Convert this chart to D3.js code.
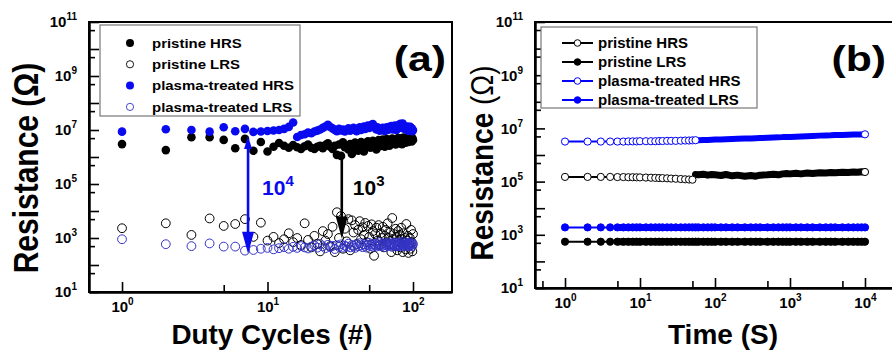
<!DOCTYPE html>
<html>
<head>
<meta charset="utf-8">
<script src="https://cdn.jsdelivr.net/npm/d3@7/dist/d3.min.js"></script>
<style>
  body { margin: 0; background: #fff; }
  svg { display: block; font-family: "Liberation Sans", Arial, sans-serif; font-weight: bold; }
</style>
</head>
<body>
<svg id="chart" width="892" height="351"></svg>
<script>
// ---------- panel (a): resistance vs duty cycle (cycles 1..100) ----------
var cycles = d3.range(1, 101);

var pristineHRS = [
  3.0e6, 1.8e6, 5.4e6, 5.4e6, 4.3e6, 2.1e6, 4.7e6, 1.7e6, 3.6e6, 1.6e6,
  2.4e6, 3.3e6, 2.6e6, 2.2e6, 2.8e6, 2.3e6, 2.0e6, 2.5e6, 2.9e6, 2.2e6,
  2.0e6, 2.4e6, 2.6e6, 2.1e6, 2.8e6, 3.2e6, 2.4e6, 2.0e6, 2.6e6, 1.2e6,
  2.9e6, 1.1e6, 3.5e6, 2.3e6, 2.7e6, 1.9e6, 3.0e6, 1.3e6, 2.5e6, 3.4e6,
  2.2e6, 1.7e6, 2.8e6, 3.6e6, 2.4e6, 1.6e6, 3.1e6, 2.6e6, 3.8e6, 2.9e6,
  2.2e6, 3.3e6, 4.0e6, 2.7e6, 3.5e6, 1.9e6, 3.0e6, 4.2e6, 2.5e6, 3.6e6,
  2.8e6, 4.4e6, 3.2e6, 2.4e6, 3.9e6, 4.6e6, 3.0e6, 3.7e6, 2.6e6, 4.1e6,
  3.4e6, 4.8e6, 3.1e6, 4.3e6, 3.6e6, 2.9e6, 4.5e6, 3.8e6, 5.0e6, 3.3e6,
  4.2e6, 3.7e6, 4.9e6, 3.0e6, 4.4e6, 5.2e6, 3.9e6, 4.6e6, 3.4e6, 4.8e6,
  4.1e6, 5.3e6, 3.6e6, 4.7e6, 5.5e6, 4.0e6, 4.5e6, 3.8e6, 5.0e6, 4.3e6
];
var pristineLRS = [
  2.3e3, 3.5e3, 1.3e3, 5.3e3, 2.8e3, 3.3e3, 5.0e3, 1.1e3, 3.7e3, 8.0e2,
  1.1e3, 6.5e2, 9.0e2, 1.5e3, 7.0e2, 1.0e3, 5.5e2, 3.5e3, 8.5e2, 4.5e2,
  1.2e3, 6.0e2, 3.2e2, 1.8e3, 8.0e2, 1.4e3, 5.0e2, 2.6e3, 3.0e2, 9.0e3,
  1.0e3, 6.5e3, 4.0e2, 2.2e3, 7.5e2, 5.0e3, 3.5e2, 4.5e3, 1.6e3, 3.0e3,
  6.0e2, 2.0e3, 4.2e3, 9.0e2, 2.5e3, 1.3e3, 3.6e3, 7.0e2, 2.8e3, 1.1e3,
  4.0e2, 3.2e3, 1.8e3, 2.2e2, 1.4e3, 2.4e3, 8.0e2, 3.0e3, 5.5e2, 1.5e3,
  1.0e3, 2.6e3, 4.5e2, 1.2e3, 2.0e3, 7.0e2, 3.5e3, 1.0e3, 6.0e2, 1.6e3,
  3.0e2, 5.5e3, 9.0e2, 1.4e3, 5.0e2, 2.2e3, 1.1e3, 3.5e2, 1.8e3, 7.5e2,
  1.3e3, 4.5e2, 2.4e3, 9.0e2, 3.0e2, 1.5e3, 6.5e2, 1.0e3, 3.8e2, 3.3e3,
  8.0e2, 1.2e3, 2.8e2, 6.0e2, 1.0e3, 4.0e2, 2.0e3, 7.0e2, 3.2e2, 1.4e3
];
var plasmaHRS = [
  8.7e6, 1.07e7, 1.0e7, 8.7e6, 1.26e7, 9.0e6, 1.1e7, 8.5e6, 8.8e6, 9.2e6,
  9.6e6, 1.0e7, 1.1e7, 1.3e7, 1.9e7, 5.5e6, 6.5e6, 7.0e6, 8.0e6, 7.6e6,
  8.8e6, 9.5e6, 1.05e7, 1.2e7, 1.35e7, 1.55e7, 1.3e7, 1.15e7, 1.0e7, 9.0e6,
  1.1e7, 9.6e6, 1.05e7, 8.8e6, 1.0e7, 1.15e7, 9.4e6, 1.05e7, 1.2e7, 1.0e7,
  9.0e6, 1.1e7, 1.25e7, 1.0e7, 1.15e7, 1.35e7, 1.1e7, 1.3e7, 1.45e7, 1.2e7,
  1.35e7, 1.55e7, 1.65e7, 1.4e7, 1.2e7, 1.05e7, 1.25e7, 1.1e7, 9.5e6, 1.15e7,
  1.0e7, 1.2e7, 1.05e7, 9.2e6, 1.1e7, 1.25e7, 1.0e7, 1.15e7, 1.3e7, 1.1e7,
  1.4e7, 1.2e7, 1.05e7, 1.25e7, 1.45e7, 1.2e7, 1.0e7, 1.15e7, 1.35e7, 1.55e7,
  1.3e7, 1.7e7, 1.45e7, 1.2e7, 1.75e7, 1.4e7, 1.15e7, 1.3e7, 1.05e7, 1.25e7,
  1.1e7, 1.35e7, 9.5e6, 1.2e7, 1.05e7, 1.3e7, 1.0e7, 1.15e7, 9.0e6, 1.0e7
];
var plasmaLRS = [
  9.0e2, 5.9e2, 5.0e2, 6.3e2, 4.8e2, 4.8e2, 3.4e2, 3.6e2, 4.0e2, 4.3e2,
  3.8e2, 4.2e2, 4.6e2, 4.0e2, 4.7e2, 4.3e2, 5.0e2, 4.5e2, 4.1e2, 4.8e2,
  5.3e2, 4.4e2, 6.0e2, 4.9e2, 4.2e2, 5.6e2, 4.6e2, 5.1e2, 3.9e2, 5.4e2,
  4.7e2, 5.8e2, 4.4e2, 5.2e2, 4.8e2, 6.2e2, 4.5e2, 5.5e2, 5.0e2, 4.3e2,
  5.7e2, 4.9e2, 6.4e2, 5.3e2, 4.6e2, 5.9e2, 5.1e2, 4.4e2, 5.6e2, 6.6e2,
  5.0e2, 5.8e2, 4.7e2, 6.1e2, 5.4e2, 4.8e2, 6.0e2, 5.2e2, 7.0e2, 5.6e2,
  4.9e2, 6.3e2, 5.5e2, 4.6e2, 6.0e2, 5.3e2, 6.8e2, 5.7e2, 5.0e2, 6.2e2,
  5.4e2, 4.7e2, 6.5e2, 5.8e2, 5.1e2, 6.9e2, 5.6e2, 4.9e2, 6.1e2, 5.4e2,
  6.6e2, 5.0e2, 5.9e2, 7.2e2, 5.5e2, 4.8e2, 6.3e2, 5.7e2, 6.8e2, 5.2e2,
  6.0e2, 5.5e2, 6.5e2, 4.9e2, 5.8e2, 7.0e2, 5.4e2, 6.2e2, 5.0e2, 6.0e2
];
// on/off ratio arrows: cycle, top and bottom resistance, exponent label
var arrowCycles = [7.35, 32.4];
var arrowTop = [6.0e6, 9.4e5];
var arrowBottom = [2.6e2, 9.5e2];
var arrowExp = ["4", "3"];

// ---------- panel (b): retention vs time ----------
var times = [1, 2, 3, 4, 5, 6, 7, 8, 9, 10, 12, 14, 16, 18, 20, 23, 26, 30, 35, 40,
  45, 50, 55, 60, 70, 80, 90, 100, 120, 140, 170, 200, 250, 300, 350, 400, 500, 600,
  700, 800, 900, 1000, 1200, 1400, 1700, 2000, 2500, 3000, 3500, 4000, 5000, 6000,
  7000, 8000, 9000, 10000];
var retPristineHRS = [1.5e5, 1.5e5, 1.5e5, 1.5e5, 1.48e5, 1.48e5, 1.46e5, 1.46e5, 1.45e5, 1.44e5,
  1.42e5, 1.4e5, 1.38e5, 1.36e5, 1.35e5, 1.33e5, 1.3e5, 1.28e5, 1.25e5, 1.22e5,
  1.2e5, 1.18e5, 1.85e5, 1.8e5, 1.9e5, 1.75e5, 1.85e5, 1.8e5, 1.7e5, 1.85e5,
  1.65e5, 1.75e5, 1.6e5, 1.7e5, 1.6e5, 1.75e5, 1.8e5, 1.9e5, 1.8e5, 1.95e5,
  2.0e5, 1.95e5, 2.05e5, 1.95e5, 2.1e5, 2.0e5, 2.15e5, 2.1e5, 2.2e5, 2.15e5,
  2.25e5, 2.2e5, 2.3e5, 2.25e5, 2.35e5, 2.3e5];
var retPristineLRS = [5.5e2, 5.5e2, 5.5e2, 5.5e2, 5.5e2, 5.5e2, 5.5e2, 5.5e2, 5.5e2, 5.5e2,
  5.5e2, 5.5e2, 5.5e2, 5.5e2, 5.5e2, 5.5e2, 5.5e2, 5.5e2, 5.5e2, 5.5e2,
  5.5e2, 5.5e2, 5.5e2, 5.5e2, 5.5e2, 5.5e2, 5.5e2, 5.5e2, 5.5e2, 5.5e2,
  5.5e2, 5.5e2, 5.5e2, 5.5e2, 5.5e2, 5.5e2, 5.5e2, 5.5e2, 5.5e2, 5.5e2,
  5.5e2, 5.5e2, 5.5e2, 5.5e2, 5.5e2, 5.5e2, 5.5e2, 5.5e2, 5.5e2, 5.5e2,
  5.5e2, 5.5e2, 5.5e2, 5.5e2, 5.5e2, 5.5e2];
var retPlasmaHRS = [3.2e6, 3.2e6, 3.2e6, 3.2e6, 3.2e6, 3.2e6, 3.25e6, 3.25e6, 3.25e6, 3.3e6,
  3.3e6, 3.3e6, 3.3e6, 3.35e6, 3.35e6, 3.4e6, 3.4e6, 3.4e6, 3.45e6, 3.5e6,
  3.5e6, 3.55e6, 3.6e6, 3.6e6, 3.65e6, 3.7e6, 3.75e6, 3.8e6, 3.85e6, 3.9e6,
  4.0e6, 4.05e6, 4.15e6, 4.2e6, 4.3e6, 4.35e6, 4.45e6, 4.55e6, 4.6e6, 4.7e6,
  4.75e6, 4.8e6, 4.9e6, 5.0e6, 5.1e6, 5.2e6, 5.35e6, 5.45e6, 5.5e6, 5.6e6,
  5.7e6, 5.8e6, 5.85e6, 5.9e6, 5.95e6, 6.0e6];
var retPlasmaLRS = [1.9e3, 1.9e3, 1.9e3, 1.9e3, 1.9e3, 1.9e3, 1.9e3, 1.9e3, 1.9e3, 1.9e3,
  1.9e3, 1.9e3, 1.9e3, 1.9e3, 1.9e3, 1.9e3, 1.9e3, 1.9e3, 1.9e3, 1.9e3,
  1.9e3, 1.9e3, 1.9e3, 1.9e3, 1.9e3, 1.9e3, 1.9e3, 1.9e3, 1.9e3, 1.9e3,
  1.9e3, 1.9e3, 1.9e3, 1.9e3, 1.9e3, 1.9e3, 1.9e3, 1.9e3, 1.9e3, 1.9e3,
  1.9e3, 1.9e3, 1.9e3, 1.9e3, 1.9e3, 1.9e3, 1.9e3, 1.9e3, 1.9e3, 1.9e3,
  1.9e3, 1.9e3, 1.9e3, 1.9e3, 1.9e3, 1.9e3];

var yMajor = [1e1, 1e2, 1e3, 1e4, 1e5, 1e6, 1e7, 1e8, 1e9, 1e10, 1e11];
var yMinor = [5e1, 5e2, 5e3, 5e4, 5e5, 5e6, 5e7, 5e8, 5e9, 5e10];

var BLUE = "#0a0af0";
var svg = d3.select("#chart");

// replace "n" tick text by 10 with superscript n
function powerLabels(g, supSize, rise) {
  g.selectAll(".tick text").each(function () {
    var t = d3.select(this), e = t.text();
    if (!e) return;
    t.text(null);
    t.append("tspan").text("10");
    t.append("tspan").attr("dy", -rise).attr("font-size", supSize).text(e);
  });
}

function drawAxes(box, x, y, xMajor, xMinor) {
  var yLab = function (d) { var e = Math.round(Math.log10(d)); return e % 2 ? e : ""; };
  var xLab = function (d) { return Math.round(Math.log10(d)); };

  svg.append("rect")
    .attr("x", box.left).attr("y", box.top)
    .attr("width", box.right - box.left).attr("height", box.bottom - box.top)
    .attr("fill", "none").attr("stroke", "#000").attr("stroke-width", 2);

  var gy = svg.append("g").attr("transform", "translate(" + box.left + ",0)");
  gy.append("g").call(d3.axisLeft(y).tickValues(yMinor).tickSizeInner(-6).tickSizeOuter(0).tickFormat(""));
  var gyl = gy.append("g").call(d3.axisLeft(y).tickValues(yMajor).tickSizeInner(-10).tickSizeOuter(0)
    .tickPadding(12).tickFormat(yLab));

  var gx = svg.append("g").attr("transform", "translate(0," + box.bottom + ")");
  gx.append("g").call(d3.axisBottom(x).tickValues(xMinor).tickSizeInner(-7).tickSizeOuter(0).tickFormat(""));
  var gxl = gx.append("g").call(d3.axisBottom(x).tickValues(xMajor).tickSizeInner(-10).tickSizeOuter(0)
    .tickPadding(9).tickFormat(xLab));

  [gy, gx].forEach(function (g) {
    g.selectAll(".domain").attr("stroke-width", 2);
    g.selectAll(".tick line").attr("stroke-width", 1.6);
    g.selectAll("g").attr("font-family", null).attr("font-size", 15);
  });
  powerLabels(gyl, 10, 7);
  powerLabels(gxl, 10, 7);
}

// ================= panel (a) =================
var boxA = {left: 89, right: 452, top: 22, bottom: 292};
var xA = d3.scaleLog().domain([0.593, 185.4]).range([boxA.left, boxA.right]);
var yA = d3.scaleLog().domain([1e1, 1e11]).range([boxA.bottom, boxA.top]);
drawAxes(boxA, xA, yA, [1, 10, 100], [5, 50]);

var seriesA = [
  {name: "pristine HRS", values: pristineHRS, color: "#000", filled: true},
  {name: "pristine LRS", values: pristineLRS, color: "#000", filled: false},
  {name: "plasma-treated HRS", values: plasmaHRS, color: BLUE, filled: true},
  {name: "plasma-treated LRS", values: plasmaLRS, color: "#3434c8", filled: false}
];

var plotA = svg.append("g");
seriesA.forEach(function (s) {
  plotA.append("g").selectAll("circle")
    .data(s.values)
    .enter().append("circle")
    .attr("cx", function (d, i) { return xA(cycles[i]); })
    .attr("cy", function (d) { return yA(d); })
    .attr("r", s.filled ? 4.3 : 4.4)
    .attr("fill", s.filled ? s.color : "none")
    .attr("stroke", s.color)
    .attr("stroke-width", s.filled ? 0 : 1);
});

// arrows
arrowCycles.forEach(function (c, i) {
  var col = i === 0 ? BLUE : "#000";
  var ax = xA(c), y0 = yA(arrowTop[i]), y1 = yA(arrowBottom[i]);
  var head = 22, hw = 6;
  plotA.append("line")
    .attr("x1", ax).attr("x2", ax)
    .attr("y1", i === 0 ? y0 + 6 : y0).attr("y2", y1 - head + 2)
    .attr("stroke", col).attr("stroke-width", 2.6);
  plotA.append("path")
    .attr("d", "M" + (ax - hw) + "," + (y1 - head) + "L" + (ax + hw) + "," + (y1 - head) + "L" + ax + "," + y1 + "Z")
    .attr("fill", col);
  if (i === 0) {
    plotA.append("path")
      .attr("d", "M" + (ax - 4) + "," + (y0 + 13) + "L" + (ax + 4) + "," + (y0 + 13) + "L" + ax + "," + y0 + "Z")
      .attr("fill", col);
  }
  var lab = plotA.append("text")
    .attr("x", ax + (i === 0 ? 14 : 11)).attr("y", 195)
    .attr("fill", col).attr("font-size", 21);
  lab.append("tspan").text("10");
  lab.append("tspan").attr("dy", -9).attr("font-size", 15).text(arrowExp[i]);
});

// legend (a)
var legA = svg.append("g");
legA.append("rect").attr("x", 100).attr("y", 25).attr("width", 200).attr("height", 91)
  .attr("fill", "#fff").attr("stroke", "#777").attr("stroke-width", 1.2);
seriesA.forEach(function (s, i) {
  var ly = 43 + i * 21.3;
  legA.append("circle").attr("cx", 130).attr("cy", ly)
    .attr("r", s.filled ? 4 : 3.6)
    .attr("fill", s.filled ? s.color : "none")
    .attr("stroke", s.color).attr("stroke-width", s.filled ? 0 : 0.9);
  legA.append("text")
    .attr("transform", "translate(152," + (ly + 4.6) + ") scale(1.15,1)")
    .attr("font-size", 13).text(s.name);
});

svg.append("text")
  .attr("transform", "translate(446,71) scale(1.22,1)")
  .attr("text-anchor", "end").attr("font-size", 35).text("(a)");

var ytA = svg.append("text")
  .attr("transform", "translate(38,168) scale(1.15,1) rotate(-90)")
  .attr("text-anchor", "middle").attr("font-size", 30).text("Resistance (Ω)");

svg.append("text")
  .attr("x", 272).attr("y", 344)
  .attr("text-anchor", "middle").attr("font-size", 27)
  .attr("textLength", 201).attr("lengthAdjust", "spacingAndGlyphs")
  .text("Duty Cycles (#)");

// ================= panel (b) =================
var boxB = {left: 535, right: 900, top: 22, bottom: 288};
var xB = d3.scaleLog().domain([0.398, 29300]).range([boxB.left, boxB.right]);
var yB = d3.scaleLog().domain([1e1, 1e11]).range([boxB.bottom, boxB.top]);
drawAxes(boxB, xB, yB, [1, 10, 100, 1000, 10000], [0.5, 5, 50, 500, 5000]);

var seriesB = [
  {name: "pristine HRS", values: retPristineHRS, color: "#000", filled: false, solidFrom: 55, band: 7},
  {name: "pristine LRS", values: retPristineLRS, color: "#000", filled: true, solidFrom: 5, band: 7},
  {name: "plasma-treated HRS", values: retPlasmaHRS, color: "#0000ff", filled: false, solidFrom: 60, band: 6},
  {name: "plasma-treated LRS", values: retPlasmaLRS, color: "#0000ff", filled: true, solidFrom: 5, band: 7}
];

var line = d3.line()
  .x(function (d) { return xB(d[0]); })
  .y(function (d) { return yB(d[1]); });

var plotB = svg.append("g");
seriesB.forEach(function (s) {
  var pts = times.map(function (t, i) { return [t, s.values[i]]; });
  plotB.append("path").datum(pts).attr("d", line)
    .attr("fill", "none").attr("stroke", s.color).attr("stroke-width", 2);
  plotB.append("path")
    .datum(pts.filter(function (d) { return d[0] >= s.solidFrom; }))
    .attr("d", line)
    .attr("fill", "none").attr("stroke", s.color)
    .attr("stroke-width", s.band).attr("stroke-linejoin", "round").attr("stroke-linecap", "round");
  plotB.append("g").selectAll("circle")
    .data(pts.filter(function (d, i) { return s.filled || d[0] < s.solidFrom || i === pts.length - 1; }))
    .enter().append("circle")
    .attr("cx", function (d) { return xB(d[0]); })
    .attr("cy", function (d) { return yB(d[1]); })
    .attr("r", 3.6)
    .attr("fill", s.filled ? s.color : "#fff")
    .attr("stroke", s.color).attr("stroke-width", 1);
});

// legend (b)
var legB = svg.append("g");
legB.append("rect").attr("x", 541).attr("y", 27).attr("width", 216).attr("height", 81)
  .attr("fill", "#fff").attr("stroke", "#777").attr("stroke-width", 1.2);
seriesB.forEach(function (s, i) {
  var ly = 43 + i * 19;
  legB.append("line").attr("x1", 562).attr("x2", 593).attr("y1", ly).attr("y2", ly)
    .attr("stroke", s.color).attr("stroke-width", 2);
  legB.append("circle").attr("cx", 577.5).attr("cy", ly).attr("r", 3.3)
    .attr("fill", s.filled ? s.color : "#fff").attr("stroke", s.color).attr("stroke-width", 1);
  legB.append("text").attr("x", 598).attr("y", ly + 5.4)
    .attr("font-size", 15).text(s.name);
});

svg.append("text")
  .attr("transform", "translate(886,71) scale(1.22,1)")
  .attr("text-anchor", "end").attr("font-size", 35).text("(b)");

var ytB = svg.append("text")
  .attr("transform", "translate(493,163) scale(1.15,1) rotate(-90)")
  .attr("text-anchor", "middle").attr("font-size", 28);
ytB.append("tspan").text("Resistance ");
ytB.append("tspan").attr("font-weight", "normal").text("(Ω)");

svg.append("text")
  .attr("x", 723).attr("y", 344)
  .attr("text-anchor", "middle").attr("font-size", 27)
  .attr("textLength", 110).attr("lengthAdjust", "spacingAndGlyphs")
  .text("Time (S)");
</script>
</body>
</html>
